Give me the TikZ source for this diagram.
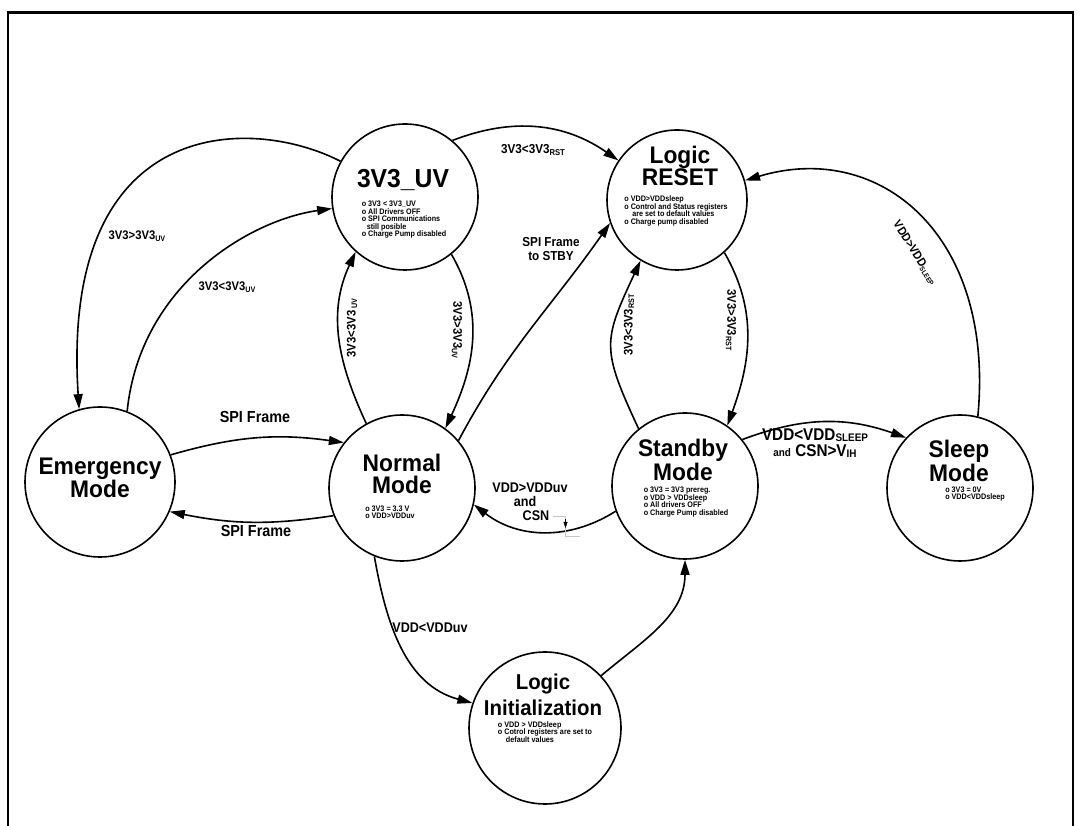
\documentclass[tikz,border=0pt]{standalone}
\usepackage{fontspec}
\setmainfont{Liberation Sans}
\newfontfamily\ttlfont{Liberation Sans}[FakeStretch=0.95]
\newfontfamily\edgefont{Liberation Sans}[FakeStretch=0.9]
\usetikzlibrary{arrows.meta}
\newcommand\lo[2]{\raisebox{-1.5pt}{\fontsize{#1}{#1}\selectfont #2}}
\tikzset{
  state/.style={circle, draw, line width=1.6pt, inner sep=0pt, minimum size=146pt},
  ttl/.style={font=\ttlfont\bfseries\fontsize{24}{22}\selectfont, align=center, inner sep=0pt},
  bul/.style={font=\edgefont\bfseries\fontsize{8}{7.5}\selectfont, align=left, inner sep=0pt},
  lbl/.style={font=\edgefont\bfseries\fontsize{12.5}{13}\selectfont, align=center, inner sep=0pt},
  conn/.style={line width=1.6pt, -{Triangle[length=15pt,width=9pt]}},
}
\begin{document}
\begin{tikzpicture}[x=1pt,y=1pt]
\useasboundingbox (0,0) rectangle (1082,825);
\draw[line width=2.5pt] (8,-5) -- (8,812.5) -- (1073,812.5) -- (1073,-5);

% states
\node[state] (UV) at (405,628) {};
\node[state, minimum size=140pt] (RST) at (677,625) {};
\node[state, minimum size=150pt] (EM) at (100,343) {};
\node[state] (NM) at (402,337) {};
\node[state] (SB) at (685,339) {};
\node[state] (SL) at (960,337) {};
\node[state, minimum size=152pt] (LI) at (545,97) {};

% state texts
\node[ttl, font=\ttlfont\bfseries\fontsize{26}{26}\selectfont] (UVt) at (403,645) {3V3\_UV};
\node[bul] (UVb) at (404,605) {o 3V3 < 3V3\_UV\\o All Drivers OFF\\o SPI Communications\\\hspace*{5pt}still posible\\o Charge Pump disabled};
\node[ttl] (RSTt) at (680,659) {Logic\\RESET};
\node[bul] (RSTb) at (676,614) {o VDD>VDDsleep\\o Control and Status registers\\\hspace*{8pt}are set to default values\\o Charge pump disabled};
\node[ttl] (EMt) at (100,347) {Emergency\\Mode};
\node[ttl] (NMt) at (402,351) {Normal\\Mode};
\node[bul] (NMb) at (390,313) {o 3V3 = 3.3 V\\o VDD>VDDuv};
\node[ttl] (SBt) at (683,365) {Standby\\Mode};
\node[bul] (SBb) at (686,323) {o 3V3 = 3V3 prereg.\\o VDD > VDDsleep\\o All drivers OFF\\o Charge Pump disabled};
\node[ttl] (SLt) at (959,364) {Sleep\\Mode};
\node[bul] (SLb) at (975,331) {o 3V3 = 0V\\o VDD<VDDsleep};
\node[ttl, font=\ttlfont\bfseries\fontsize{21.5}{26}\selectfont] (LIt) at (543,130) {Logic\\Initialization};
\node[bul] (LIb) at (545,93) {o VDD > VDDsleep\\o Cotrol registers are set to\\\hspace*{8pt}default values};

% connectors
\draw[conn] (UV.151) .. controls (250,710) and (60,710) .. (EM.106);
\draw[conn] (EM.69) .. controls (140,540) and (250,605) .. (UV.189);
\draw[conn] (EM.21) to[bend left=12] (NM.142);
\draw[conn] (NM.202) to[bend left=10] (EM.337);
\draw[conn] (NM.119) to[out=115,in=245] (UV.228);
\draw[conn] (UV.309) to[out=-60,in=65] (NM.54);
\draw[conn] (UV.50) to[bend left=28] (RST.146);
\draw[conn] (NM.40) to[out=62,in=235] (RST.199);
\draw[conn] (RST.312) to[out=-60,in=70] (SB.55);
\draw[conn] (SB.129) to[out=115,in=245,looseness=1.35] (RST.239);
\draw[conn] (SB.39) to[bend left=20] (SL.137);
\draw[conn] (SL.76) .. controls (995,590) and (880,685) .. (RST.16);
\draw[conn] (SB.200) to[bend left=35] (NM.347);
\draw[conn] (NM.248) to[out=-80,in=165] (LI.161);
\draw[conn] (LI.43) to[out=40,in=-90] (SB.270);

% labels
\node[lbl] (L1) at (137,589) {3V3>3V3\lo{8}{UV}};
\node[lbl] (L2) at (227,538) {3V3<3V3\lo{8}{UV}};
\node[lbl, font=\edgefont\bfseries\fontsize{16}{16}\selectfont] (L3) at (255,408) {SPI Frame};
\node[lbl, font=\edgefont\bfseries\fontsize{16}{16}\selectfont] (L4) at (256,294) {SPI Frame};
\node[lbl, rotate=90] (L5) at (352,497) {3V3<3V3\,\lo{8}{UV}};
\node[lbl, rotate=-90] (L6) at (457,495) {3V3>3V3\lo{8}{UV}};
\node[lbl, font=\edgefont\bfseries\fontsize{13}{13}\selectfont] (L7) at (533,675) {3V3<3V3\lo{8.5}{RST}};
\node[lbl, font=\edgefont\bfseries\fontsize{13}{14}\selectfont] (L8) at (551,576) {SPI Frame\\to STBY};
\node[lbl, rotate=-90] (L9) at (731,505) {3V3>3V3\lo{8}{RST}};
\node[lbl, rotate=90] (L10) at (629,500) {3V3<3V3\lo{8}{RST}};
\node[lbl, font=\edgefont\bfseries\fontsize{17}{16}\selectfont] (L11) at (815,382) {VDD<VDD\lo{11}{SLEEP}\\{\fontsize{11}{11}\selectfont and} CSN>V\lo{11}{IH}};
\node[lbl, rotate=-58, font=\edgefont\bfseries\fontsize{12}{12}\selectfont] (L12) at (915,572) {VDD>VDD\lo{7}{SLEEP}};
\node[lbl, font=\edgefont\bfseries\fontsize{14}{14}\selectfont] (L13a) at (530,337) {VDD>VDDuv};
\node[lbl, font=\edgefont\bfseries\fontsize{14}{14}\selectfont] (L13b) at (525,324) {and};
\node[lbl, font=\edgefont\bfseries\fontsize{14}{14}\selectfont] (L13c) at (536,309) {CSN};
\node[lbl, font=\edgefont\bfseries\fontsize{14}{14}\selectfont] (L14) at (430,197) {VDD<VDDuv};

% falling edge symbol after CSN
\draw[gray!45, line width=0.8pt] (L13c.east) ++(3,0) -- ++(13,0) -- ++(0,-20) -- ++(14,0);
\draw[line width=0.5pt, -{Triangle[length=6pt,width=4pt]}] (L13c.east) ++(16,-3) -- ++(0,-9);
\end{tikzpicture}
\end{document}
